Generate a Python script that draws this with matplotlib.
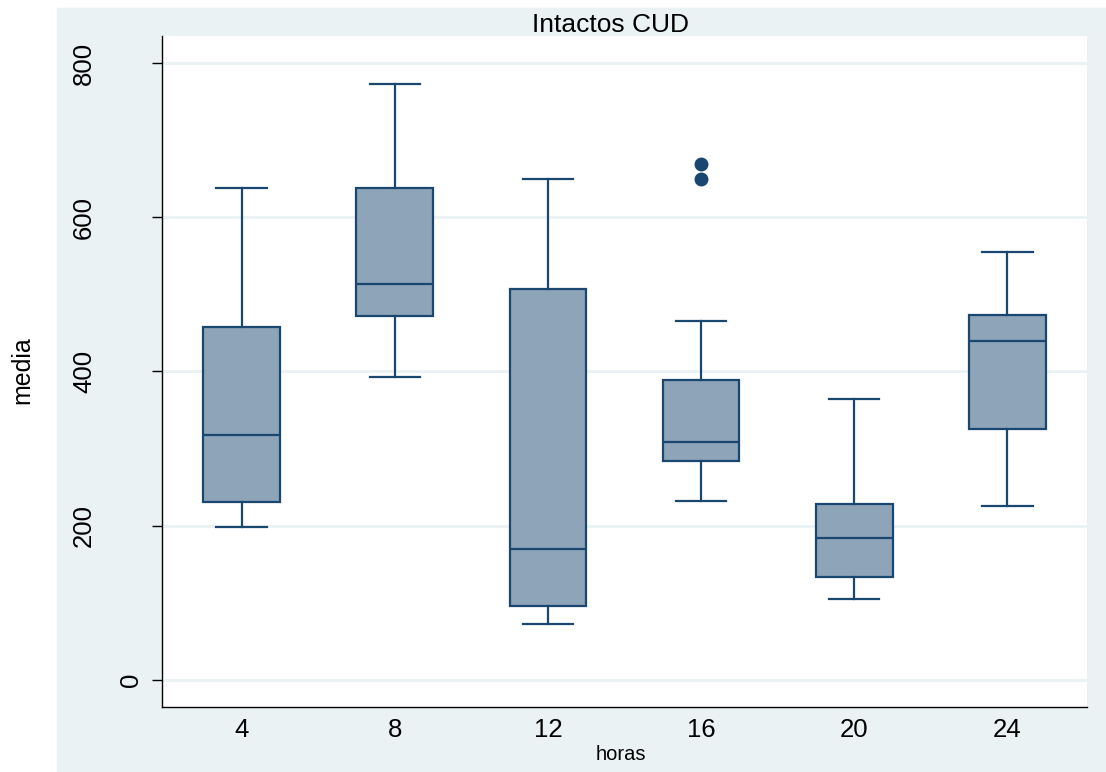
import matplotlib
matplotlib.use('Agg')
import matplotlib.pyplot as plt
from matplotlib.patches import Rectangle

plt.rcParams['font.family'] = ['Liberation Sans', 'DejaVu Sans']

####################
# Data
horas     = ['4', '8', '12', '16', '20', '24']
whislo    = [198, 393, 73, 232, 105, 226]
q1        = [231, 472, 96, 284, 134, 326]
med       = [318, 514, 170, 309, 184, 440]
q3        = [458, 638, 507, 389, 228, 473]
whishi    = [638, 773, 650, 466, 364, 555]
outliers  = [[], [], [], [669, 649], [], []]

yticks = [0, 200, 400, 600, 800]

####################
# Colours
navy = '#1a476f'
fill = '#8ea4b9'
bg   = '#eaf2f3'

####################
# Figure
W, H = 1106, 772
fig = plt.figure(figsize=(W/100, H/100), dpi=100)
fig.patches.append(Rectangle((57/W, 0), 1 - 57/W, (H - 8)/H,
                             transform=fig.transFigure, color=bg, zorder=-1))

ax = fig.add_axes([162/W, (H - 707)/H, (1087 - 162)/W, (707 - 36)/H])
ax.set_facecolor('white')

stats = []
for i in range(len(horas)):
    stats.append(dict(whislo=whislo[i], q1=q1[i], med=med[i], q3=q3[i],
                      whishi=whishi[i], fliers=outliers[i], label=horas[i]))

ax.bxp(stats, positions=range(len(horas)), widths=0.5, patch_artist=True,
       capwidths=0.33,
       boxprops=dict(facecolor=fill, edgecolor=navy, linewidth=1.6),
       medianprops=dict(color=navy, linewidth=1.6),
       whiskerprops=dict(color=navy, linewidth=1.6),
       capprops=dict(color=navy, linewidth=1.6),
       flierprops=dict(marker='o', markerfacecolor=navy, markeredgecolor=navy,
                       markersize=9))

ax.set_xlim(-0.52, 5.52)
ax.set_ylim(-35, 835)

# grid
ax.set_yticks(yticks)
ax.yaxis.grid(True, color=bg, linewidth=2)
ax.set_axisbelow(True)

ax.spines['top'].set_visible(False)
ax.spines['right'].set_visible(False)
ax.spines['left'].set_linewidth(1)
ax.spines['bottom'].set_linewidth(1)

ax.tick_params(axis='x', length=0, pad=8, labelsize=18.5)
ax.set_xticks(range(len(horas)))
ax.set_xticklabels(horas)

ax.tick_params(axis='y', length=7, width=1, labelleft=False)
# y labels are drawn rotated, as in the original
trans = ax.get_yaxis_transform()
for v in yticks:
    s = str(v)
    off = -31 - 23.5 * (len(s) - 1)
    ax.text(off / (1087 - 162), v, s, transform=trans, rotation=90,
            ha='center', va='center', fontsize=18.5)

fig.text(610/W, 1 - 25/H, 'Intactos CUD', ha='center', va='center', fontsize=19)
fig.text(621/W, 1 - 755/H, 'horas', ha='center', va='center', fontsize=14.5)
fig.text(22/W, 1 - 370/H, 'media', ha='center', va='center', rotation=90, fontsize=18)

fig.savefig('out.png', dpi=100)
